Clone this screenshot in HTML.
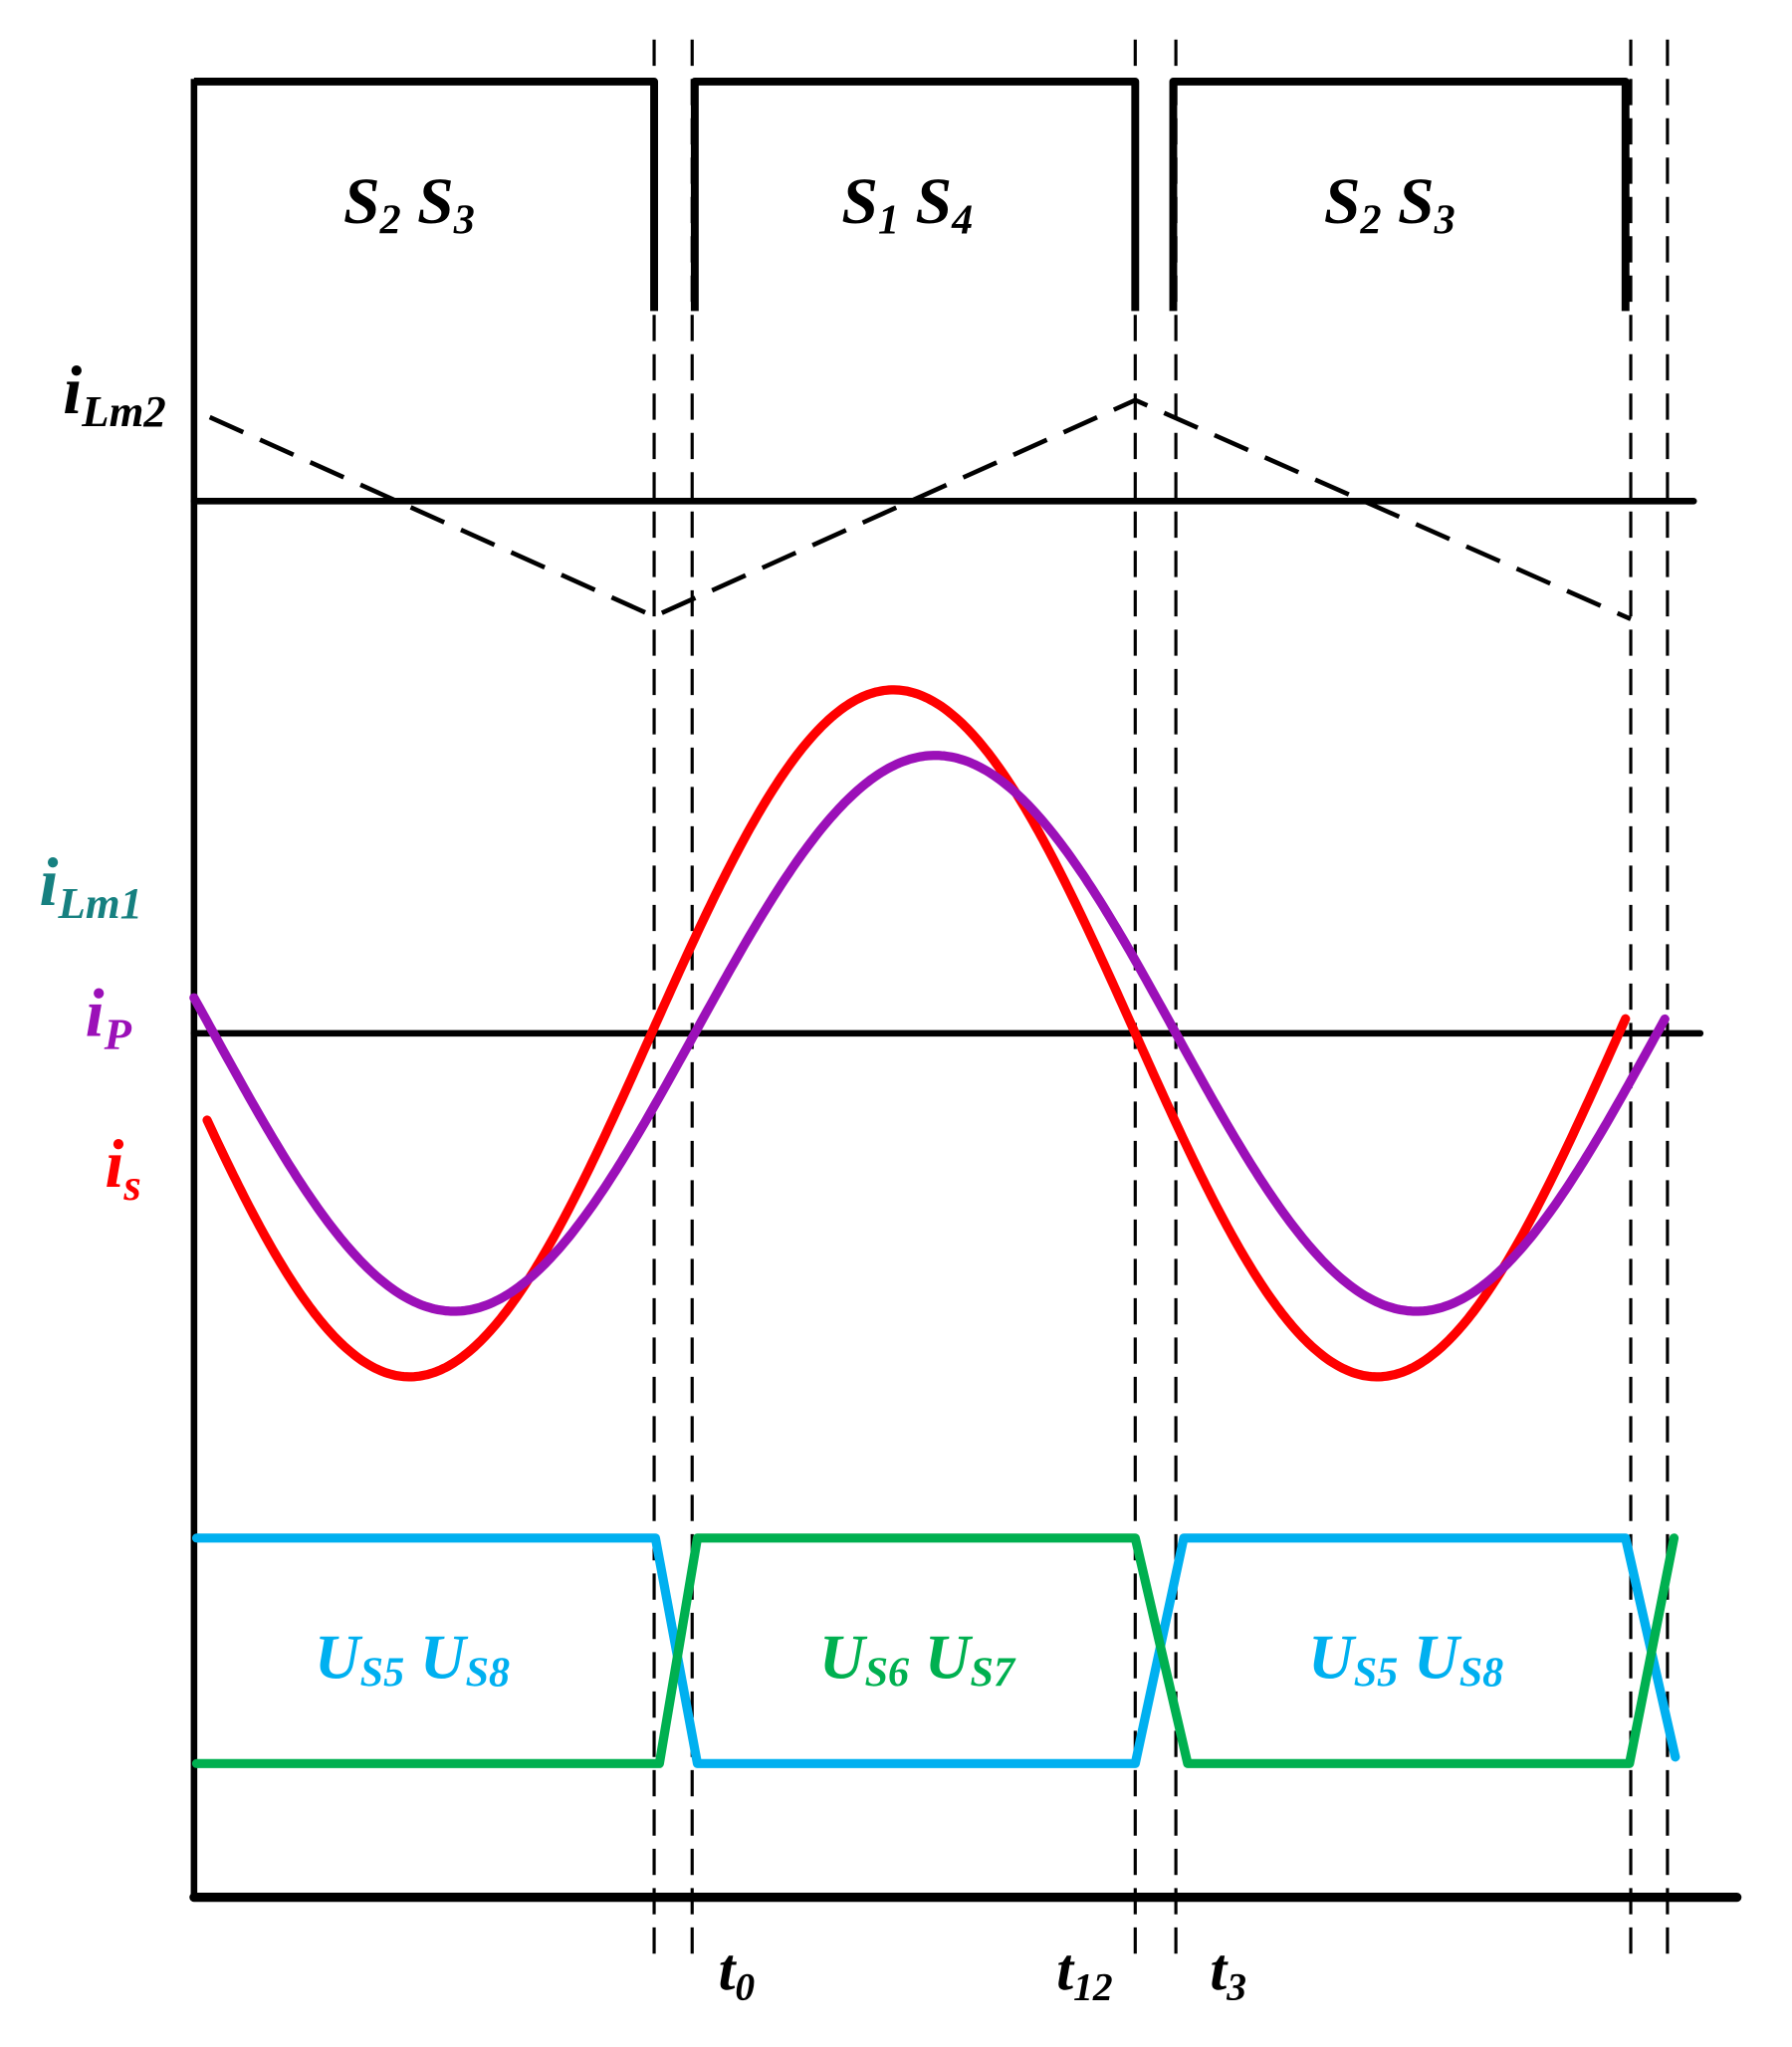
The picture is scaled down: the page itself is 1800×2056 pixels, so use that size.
<!DOCTYPE html>
<html><head><meta charset="utf-8">
<style>
html,body{margin:0;padding:0;background:#fff;}
svg{display:block;}
text{font-family:"Liberation Serif",serif;font-weight:bold;font-style:italic;}
</style></head>
<body>
<svg id="s" width="1800" height="2056" viewBox="0 0 1367 1561" xmlns="http://www.w3.org/2000/svg">
<rect width="1367" height="1561" fill="#fff"/>
<g stroke="#000" stroke-width="2.4" stroke-dasharray="20,10">
<line x1="499" y1="30" x2="499" y2="1490"/>
<line x1="528" y1="30" x2="528" y2="1490"/>
<line x1="866" y1="30" x2="866" y2="1490"/>
<line x1="897" y1="30" x2="897" y2="1490"/>
<line x1="1244" y1="30" x2="1244" y2="1490"/>
<line x1="1272" y1="30" x2="1272" y2="1490"/>
</g>
<line x1="148" y1="60" x2="148" y2="1449" stroke="#000" stroke-width="5"/>
<line x1="148" y1="382" x2="1292" y2="382" stroke="#000" stroke-width="5" stroke-linecap="round"/>
<line x1="148" y1="788" x2="1297" y2="788" stroke="#000" stroke-width="5" stroke-linecap="round"/>
<line x1="148" y1="1447" x2="1325" y2="1447" stroke="#000" stroke-width="7" stroke-linecap="round"/>
<g fill="none" stroke="#000" stroke-width="6" stroke-linejoin="round">
<polyline points="148,62 499,62 499,237"/>
<polyline points="530,237 530,62 866,62 866,237"/>
<polyline points="895,237 895,62 1240,62 1240,237"/>
</g>
<polyline points="160,318 499,470 866,305 1244,472" fill="none" stroke="#000" stroke-width="3.5" stroke-dasharray="28,14"/>
<path id="red" fill="none" stroke="#ff0000" stroke-width="7" stroke-linecap="round"/>
<path id="pur" fill="none" stroke="#9b10b8" stroke-width="7" stroke-linecap="round"/>
<polyline points="150,1173 500,1173 532,1345 866,1345 903,1173 1240,1173 1278,1340" fill="none" stroke="#00b0f0" stroke-width="7" stroke-linecap="round" stroke-linejoin="round"/>
<polyline points="150,1345 503,1345 532,1173 866,1173 906,1345 1243,1345 1277,1173" fill="none" stroke="#00b050" stroke-width="7" stroke-linecap="round" stroke-linejoin="round"/>
<text x="262" y="170" font-size="50">S<tspan font-size="32" dy="8">2</tspan><tspan dy="-8"> S</tspan><tspan font-size="32" dy="8">3</tspan></text>
<text x="642" y="170" font-size="50">S<tspan font-size="32" dy="8">1</tspan><tspan dy="-8"> S</tspan><tspan font-size="32" dy="8">4</tspan></text>
<text x="1010" y="170" font-size="50">S<tspan font-size="32" dy="8">2</tspan><tspan dy="-8"> S</tspan><tspan font-size="32" dy="8">3</tspan></text>
<text x="48" y="315" font-size="52">i<tspan font-size="34" dy="10">Lm2</tspan></text>
<text x="30" y="690" font-size="52" fill="#168080">i<tspan font-size="34" dy="10">Lm1</tspan></text>
<text x="65" y="790" font-size="52" fill="#9b10b8">i<tspan font-size="34" dy="10">P</tspan></text>
<text x="80" y="905" font-size="52" fill="#ff0000">i<tspan font-size="34" dy="10">s</tspan></text>
<text x="240" y="1280" font-size="48" fill="#00b0f0">U<tspan font-size="32" dy="6">S5</tspan><tspan dy="-6"> U</tspan><tspan font-size="32" dy="6">S8</tspan></text>
<text x="625" y="1280" font-size="48" fill="#00b050">U<tspan font-size="32" dy="6">S6</tspan><tspan dy="-6"> U</tspan><tspan font-size="32" dy="6">S7</tspan></text>
<text x="998" y="1280" font-size="48" fill="#00b0f0">U<tspan font-size="32" dy="6">S5</tspan><tspan dy="-6"> U</tspan><tspan font-size="32" dy="6">S8</tspan></text>
<text x="548" y="1517" font-size="46">t<tspan font-size="30" dy="8">0</tspan></text>
<text x="806" y="1517" font-size="46">t<tspan font-size="30" dy="8">12</tspan></text>
<text x="923" y="1517" font-size="46">t<tspan font-size="30" dy="8">3</tspan></text>
</svg>
<script>
function mk(x0,x1,z,A,P,c){var d="";for(var x=x0;x<=x1;x+=2){var y=c-A*Math.sin(2*Math.PI*(x-z)/P);d+=(d?"L":"M")+x+","+y.toFixed(1);}return d;}
document.getElementById("red").setAttribute("d",mk(158,1240,497,262,738,788));
document.getElementById("pur").setAttribute("d",mk(148,1270,530,212,734,788));
</script>
</body></html>
